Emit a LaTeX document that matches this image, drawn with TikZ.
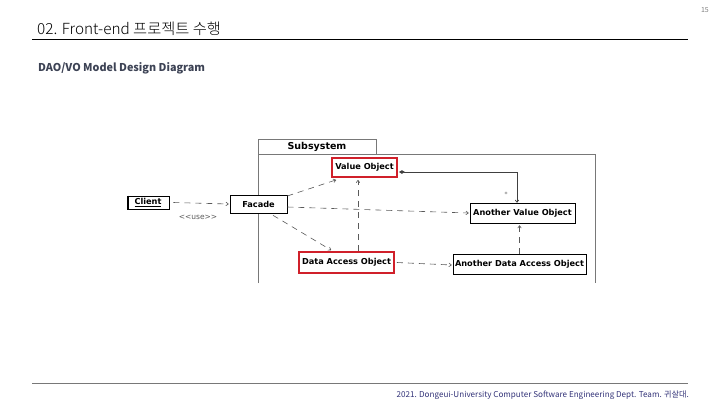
\documentclass[tikz,border=0pt]{standalone}
\usepackage{fontspec}
\usetikzlibrary{arrows.meta,calc}
\setmainfont{DejaVu Sans}
\newfontfamily\krfont{Noto Sans CJK KR}
\newfontfamily\krlight{Noto Sans CJK KR Light}[BoldFont={Noto Sans CJK KR Bold}]
\newfontfamily\umlfont{DejaVu Sans}
\definecolor{subtitlegray}{RGB}{61,67,85}
\definecolor{footerblue}{RGB}{50,50,120}
\definecolor{hilite}{RGB}{208,32,42}
\definecolor{framegray}{RGB}{120,120,120}
\definecolor{depgray}{RGB}{90,90,90}
\begin{document}
\begin{tikzpicture}[x=1pt,y=-1pt,
  cls/.style={draw=black, line width=0.6pt, fill=white, inner sep=0pt,
    font=\umlfont\bfseries\fontsize{8.2}{9}\selectfont},
  hot/.style={cls, draw=hilite, line width=1.8pt},
  dep/.style={draw=depgray, line width=0.6pt, dash pattern=on 6pt off 5pt,
    -{To[length=3pt,width=4pt]}},
  frame/.style={draw=framegray, line width=0.7pt}]
\useasboundingbox (0,0) rectangle (720,405);
\fill[white] (0,0) rectangle (720,405);

% header
\node[anchor=base west, inner sep=0pt, font=\krlight\fontsize{15.3}{18}\selectfont] (title) at (37,34.5) {02. Front-end 프로젝트 수행};
\draw[black, line width=0.9pt] (32,39) -- (688,39);
\node[anchor=base east, inner sep=0pt, text=gray, font=\krfont\fontsize{7}{8}\selectfont] (pageno) at (709,12) {15};
\node[anchor=base west, inner sep=0pt, text=subtitlegray, font=\krfont\bfseries\fontsize{10.8}{13}\selectfont] (subtitle) at (38,71.7) {DAO/VO Model Design Diagram};

% footer
\draw[framegray, line width=0.8pt] (32,383) -- (688,383);
\node[anchor=base east, inner sep=0pt, text=footerblue, font=\krfont\fontsize{8.1}{9}\selectfont] (footer) at (689,397) {2021. Dongeui-University Computer Software Engineering Dept. Team. 귀살대.};

% subsystem package
\draw[frame] (258,154) rectangle (376,139);
\draw[frame] (258,283) -- (258,154) -- (595,154) -- (595,283);
\node[font=\umlfont\bfseries\fontsize{9.5}{10}\selectfont, inner sep=0pt] (pkg) at (317,146.5) {Subsystem};

% classes
\node[cls, minimum width=42pt, minimum height=13pt] (client) at (148,202.5) {\underline{Client}};
\draw[black, line width=0.6pt] (client.north west) ++(1.5pt,0) -- ++(0,-13pt);
\node[cls, minimum width=57pt, minimum height=18pt] (fac) at (258.5,204) {Facade};
\node[hot, minimum width=65pt, minimum height=19pt] (vo) at (364.5,167.5) {Value Object};
\node[cls, minimum width=105pt, minimum height=20pt] (avo) at (522.5,213) {Another Value Object};
\node[hot, minimum width=95pt, minimum height=21pt] (dao) at (346.5,262.5) {Data Access Object};
\node[cls, minimum width=133pt, minimum height=20pt] (adao) at (519.5,264) {Another Data Access Object};

% dependencies
\draw[dep] (client.east) ++(4pt,0) -- ([xshift=-1pt]fac.west);
\node[font=\umlfont\fontsize{7.5}{8}\selectfont, text=depgray, inner sep=0pt] (use) at (198,217) {<<use>>};
\draw[dep] ([yshift=8pt]fac.east) -- ([xshift=5pt,yshift=-2pt]vo.south west);
\draw[dep] ([yshift=-3pt]fac.east) -- ([xshift=-1pt]avo.west);
\draw[dep] ([xshift=14.5pt,yshift=-2pt]fac.south) -- ([xshift=33pt,yshift=1pt]dao.north west);
\draw[dep] ([xshift=11.5pt]dao.north) -- ([xshift=-6.5pt,yshift=-2pt]vo.south);
\draw[dep] ([xshift=2pt]dao.east) -- ([xshift=-1pt,yshift=-1pt]adao.west);
\draw[dep] (adao.north) -- ([yshift=-2pt]adao.north |- avo.south);

% association between value objects
\draw[black!75, line width=0.7pt, {Diamond[length=6pt,width=3.5pt,fill=black!75]}-{To[length=3pt,width=4pt]}]
  ([xshift=1pt,yshift=-4.5pt]vo.east) -| ([xshift=-5.5pt]avo.north);
\node[font=\umlfont\fontsize{6}{6}\selectfont, text=depgray, inner sep=0pt] (mult) at (506,194) {*};
\end{tikzpicture}
\end{document}
